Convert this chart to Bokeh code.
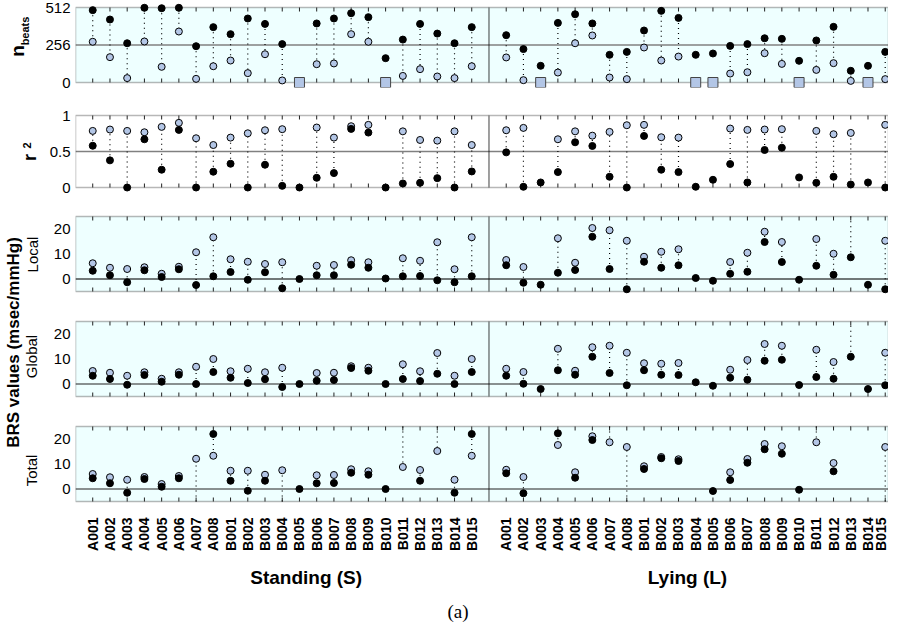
import math
import numpy as np
from bokeh.plotting import figure
from bokeh.layouts import row, column
from bokeh.models import Range1d, FixedTicker, BoxAnnotation, Span, Label
from bokeh.embed import file_html
from bokeh.resources import INLINE

N = None

categories = ["A001", "A002", "A003", "A004", "A005", "A006", "A007", "A008",
              "B001", "B002", "B003", "B004", "B005", "B006", "B007", "B008",
              "B009", "B010", "B011", "B012", "B013", "B014", "B015"]

# number of beats (black = all, light = accepted); squares = no accepted beats
nbeats_S_black = [494, 430, 268, 510, 507, 510, 248, 378, 330, 437, 400, 262, 0, 403, 437, 473, 446, 166, 293, 400, 334, 268, 378]
nbeats_S_light = [278, 173, 30, 280, 107, 348, 25, 111, 150, 64, 193, 14, N, 125, 130, 330, 278, N, 45, 91, 41, 30, 111]
nbeats_L_black = [323, 228, 114, 407, 466, 403, 189, 209, 355, 489, 441, 189, 198, 250, 262, 302, 298, 148, 287, 380, 80, 114, 209]
nbeats_L_light = [171, 16, N, 68, 268, 321, 34, 23, 239, 150, 177, N, N, 61, 70, 200, 127, N, 86, 132, 11, N, 23]
excluded_S = ["B005", "B010"]
excluded_L = ["A003", "B004", "B005", "B010", "B014"]
excluded_nbeats = 0

r2_S_light = [0.786, 0.805, 0.786, 0.767, 0.842, 0.898, 0.684, 0.59, 0.693, 0.753, 0.795, 0.81, N, 0.833, 0.693, 0.851, 0.87, N, 0.78, 0.66, 0.651, 0.78, 0.59]
r2_S_black = [0.58, 0.377, 0.0, 0.67, 0.247, 0.8, 0.0, 0.219, 0.33, 0.0, 0.316, 0.023, 0.0, 0.135, 0.2, 0.814, 0.763, 0.0, 0.056, 0.065, 0.13, 0.0, 0.223]
r2_L_light = [0.795, 0.828, N, 0.67, 0.78, 0.72, 0.772, 0.865, 0.87, 0.698, 0.693, N, N, 0.819, 0.8, 0.805, 0.81, N, 0.786, 0.74, 0.758, N, 0.87]
r2_L_black = [0.488, 0.01, 0.07, 0.214, 0.628, 0.577, 0.149, 0.0, 0.716, 0.247, 0.214, 0.01, 0.107, 0.326, 0.07, 0.521, 0.553, 0.14, 0.065, 0.149, 0.042, 0.07, 0.0]

# BRS values (msec/mmHg); values beyond the plotted range are off-scale
local_S_light = [6.3, 4.5, 4.0, 4.7, 2.1, 4.9, 10.7, 16.7, 7.9, 6.9, 6.0, 6.7, N, 5.3, 5.6, 7.5, 6.7, N, 8.3, 7.3, 14.7, 3.9, 16.7]
local_S_black = [3.3, 1.5, -1.3, 3.5, 0.8, 3.9, -2.4, 1.1, 2.8, -0.3, 2.7, -3.7, 0.0, 1.5, 1.5, 5.7, 4.5, 0.2, 1.1, 1.2, -0.5, -1.3, 1.1]
local_L_light = [7.6, 4.8, N, 16.3, 6.5, 20.4, 19.5, 15.3, 8.9, 10.9, 11.9, N, N, 6.8, 10.5, 18.9, 14.8, N, 16.0, 10.1, 40.0, N, 15.3]
local_L_black = [5.5, -1.5, -2.3, 2.5, 3.6, 16.9, 4.0, -4.1, 6.9, 4.5, 5.5, 0.4, -0.7, 2.1, 2.9, 14.8, 6.8, -0.3, 5.3, 1.7, 8.7, -2.3, -4.1]

global_S_light = [5.2, 4.5, 3.3, 4.7, 2.1, 4.7, 6.9, 10.0, 5.1, 6.1, 4.7, 6.5, N, 4.4, 4.5, 7.1, 6.5, N, 7.9, 5.1, 12.4, 3.3, 10.0]
global_S_black = [3.3, 2.0, -0.3, 3.6, 0.9, 3.7, 0.0, 4.8, 2.5, 0.4, 1.9, -1.2, 0.0, 1.3, 1.6, 6.4, 5.3, 0.0, 2.0, 1.2, 4.1, 0.0, 4.8]
global_L_light = [6.1, 4.8, N, 14.1, 5.3, 14.7, 15.3, 12.5, 8.3, 8.1, 8.4, N, N, 5.7, 9.6, 16.0, 15.3, N, 13.7, 8.8, 40.0, N, 12.5]
global_L_black = [3.3, 0.1, -2.0, 5.5, 3.7, 10.9, 4.4, -0.5, 5.5, 3.7, 3.6, 0.7, -0.7, 2.5, 1.7, 9.3, 9.7, -0.4, 2.8, 2.1, 10.9, -2.0, -0.5]

total_S_light = [6.0, 4.7, 3.7, 4.8, 2.0, 5.2, 12.1, 13.3, 7.3, 7.3, 5.7, 7.5, N, 5.5, 5.6, 7.9, 7.1, N, 8.8, 7.6, 15.2, 3.7, 13.3]
total_S_black = [4.3, 2.3, -1.5, 4.0, 0.9, 4.3, -20.0, 22.0, 3.3, -0.7, 3.3, -20.0, 0.0, 2.3, 2.4, 6.5, 5.7, 0.0, 40.0, 3.3, 40.0, -1.5, 22.0]
total_L_light = [7.7, 4.8, N, 17.6, 6.7, 21.1, 18.7, 16.8, 9.1, 12.8, 11.9, N, N, 6.7, 12.0, 18.0, 17.1, N, 18.7, 10.4, 40.0, N, 16.8]
total_L_black = [6.3, -1.7, N, 22.3, 4.5, 19.6, 40.0, -20.0, 8.0, 12.3, 11.2, N, -0.8, 3.6, 10.5, 15.9, 14.1, -0.3, 40.0, 7.1, 40.0, N, -20.0]

FONT = "Liberation Sans"
LIGHT = "#B3C6E6"
BG = "#EEFFFF"

n = len(categories)
x_S = list(range(1, n + 1))
x_L = list(range(n + 2, 2 * n + 2))
DIVIDER = n + 1
X_END = 47.19
xs_all = x_S + x_L

TITLE_W = 42
PANEL_W = 846
LEFT_B = 32
PAD_PX = 5
TICK_PX = 4


def arr(v):
    return np.array([np.nan if a is None else a for a in v], dtype=float)


def add_series(p, xs, black, light, lo, hi):
    b = arr(black)
    l = arr(light)
    xs = np.array(xs, dtype=float)
    m = ~np.isnan(b) & ~np.isnan(l)
    p.segment(x0=xs[m], y0=np.clip(b[m], lo, hi), x1=xs[m], y1=np.clip(l[m], lo, hi),
              line_dash="1 4", line_color="black", line_width=1.2)
    p.scatter(xs, l, marker="circle", size=7, fill_color=LIGHT,
              line_color="black", line_width=1)
    p.scatter(xs, b, marker="circle", size=7, fill_color="black",
              line_color="black", line_width=1)


def make_panel(lo, hi, box_h, bg, height, top_b, bottom_b, yticks, ref,
               ref_color, ref_width, S, L, overrides=None, show_x=False):
    pad = PAD_PX * (hi - lo) / box_h
    tick = TICK_PX * (hi - lo) / box_h
    p = figure(width=PANEL_W, height=height,
               x_range=Range1d(0, X_END), y_range=Range1d(lo - pad, hi + pad),
               output_backend="svg", toolbar_location=None,
               min_border_left=LEFT_B, min_border_right=0,
               min_border_top=top_b, min_border_bottom=bottom_b,
               x_axis_location="below" if show_x else None,
               outline_line_color=None, background_fill_color="white",
               border_fill_color="white")
    p.grid.visible = False
    if bg:
        p.add_layout(BoxAnnotation(left=0, right=X_END, bottom=lo, top=hi,
                                   fill_color=bg, fill_alpha=1, line_color=None,
                                   level="underlay"))
    p.add_layout(Span(location=ref, dimension="width", line_color=ref_color,
                      line_width=ref_width, level="underlay"))
    for (l0, r0) in [(0, DIVIDER), (DIVIDER, X_END)]:
        p.add_layout(BoxAnnotation(left=l0, right=r0, bottom=lo, top=hi,
                                   fill_alpha=0, line_color="#111111",
                                   line_width=1.5, level="underlay"))
    k = len(xs_all)
    p.segment(x0=xs_all, y0=[lo] * k, x1=xs_all, y1=[lo + tick] * k,
              line_color="#222222", line_width=1)
    p.segment(x0=xs_all, y0=[hi] * k, x1=xs_all, y1=[hi - tick] * k,
              line_color="#222222", line_width=1)

    add_series(p, x_S, S[0], S[1], lo, hi)
    add_series(p, x_L, L[0], L[1], lo, hi)

    ya = p.yaxis[0]
    ya.ticker = FixedTicker(ticks=yticks)
    if overrides:
        ya.major_label_overrides = overrides
    ya.axis_line_color = None
    ya.major_tick_in = 0
    ya.major_tick_out = 0
    ya.minor_tick_line_color = None
    ya.major_label_text_font = FONT
    ya.major_label_text_font_size = "15px"
    ya.major_label_text_color = "black"
    ya.major_label_standoff = 5

    if show_x:
        xa = p.xaxis[0]
        xa.ticker = FixedTicker(ticks=xs_all)
        xa.major_label_overrides = {x: c for x, c in zip(x_S, categories)} | \
                                   {x: c for x, c in zip(x_L, categories)}
        xa.major_label_orientation = math.pi / 2
        xa.axis_line_color = None
        xa.major_tick_in = 0
        xa.major_tick_out = 0
        xa.minor_tick_line_color = None
        xa.major_label_text_font = FONT
        xa.major_label_text_font_style = "bold"
        xa.major_label_text_font_size = "14px"
        xa.major_label_text_color = "black"
        xa.major_label_standoff = 11
    return p


p1 = make_panel(0, 512, 75, BG, 100, 2, 13, [0, 256, 512], 256, "#808080", 1.5,
                (nbeats_S_black, nbeats_S_light), (nbeats_L_black, nbeats_L_light))
# excluded subjects: squares at zero accepted beats
ex_S = [x_S[categories.index(c)] for c in excluded_S]
ex_L = [x_L[categories.index(c)] for c in excluded_L]
p1.scatter(ex_S + ex_L, [excluded_nbeats] * (len(ex_S) + len(ex_L)), marker="square",
           size=10, fill_color=LIGHT, line_color="#444444", line_width=1)

p2 = make_panel(0, 1, 72, None, 103, 10, 11, [0, 0.5, 1], 0.5, "#808080", 1.5,
                (r2_S_black, r2_S_light), (r2_L_black, r2_L_light),
                overrides={0: "0", 0.5: "0.5", 1: "1"})
p3 = make_panel(-5, 25, 75, BG, 103, 8, 10, [0, 10, 20], 0, "#707878", 1.8,
                (local_S_black, local_S_light), (local_L_black, local_L_light))
p4 = make_panel(-5, 25, 75, BG, 105, 10, 10, [0, 10, 20], 0, "#222222", 1.2,
                (global_S_black, global_S_light), (global_L_black, global_L_light))
p5 = make_panel(-5, 25, 75, BG, 150, 10, 55, [0, 10, 20], 0, "#222222", 1.2,
                (total_S_black, total_S_light), (total_L_black, total_L_light),
                show_x=True)

# strip below the panels with the condition titles and the caption
H6 = 61
p6 = figure(width=PANEL_W, height=H6, x_range=Range1d(0, X_END),
            y_range=Range1d(H6, 0), output_backend="svg", toolbar_location=None,
            min_border_left=LEFT_B, min_border_right=0, min_border_top=0,
            min_border_bottom=0, x_axis_location=None, y_axis_location=None,
            outline_line_color=None, background_fill_color="white",
            border_fill_color="white")
p6.grid.visible = False
p6.add_layout(Label(x=13.39, y=16, text="Standing (S)", text_font=FONT,
                    text_font_style="bold", text_font_size="19px",
                    text_color="black", text_align="center", text_baseline="middle"))
p6.add_layout(Label(x=35.52, y=16, text="Lying (L)", text_font=FONT,
                    text_font_style="bold", text_font_size="19px",
                    text_color="black", text_align="center", text_baseline="middle"))
p6.add_layout(Label(x=22.2, y=50, text="(a)", text_font="Liberation Serif",
                    text_font_size="19px", text_color="black", text_align="center",
                    text_baseline="middle"))

# left column with axis titles
H = 622
t = figure(width=TITLE_W, height=H, x_range=Range1d(0, TITLE_W),
           y_range=Range1d(H, 0), output_backend="svg", toolbar_location=None,
           min_border=0, x_axis_location=None, y_axis_location=None,
           outline_line_color=None, background_fill_color="white",
           border_fill_color="white")
t.grid.visible = False
titles = [
    ("n", 17, 50.5, "19px", "bold"),
    ("beats", 24, 30.5, "11px", "bold"),
    ("r", 29.5, 157, "18px", "bold"),
    ("2", 26.5, 145, "11px", "bold"),
    ("Local", 32, 254, "15px", "normal"),
    ("Global", 31, 356, "15px", "normal"),
    ("Total", 31, 470, "15px", "normal"),
    ("BRS values (msec/mmHg)", 13, 342, "17px", "bold"),
]
for txt, x, y, fs, st in titles:
    t.add_layout(Label(x=x, y=y, text=txt, angle=math.pi / 2, text_font=FONT,
                       text_font_size=fs, text_font_style=st, text_color="black",
                       text_align="center", text_baseline="middle"))

layout = row(t, column(p1, p2, p3, p4, p5, p6))

with open("out.html", "w") as f:
    f.write(file_html(layout, INLINE))
